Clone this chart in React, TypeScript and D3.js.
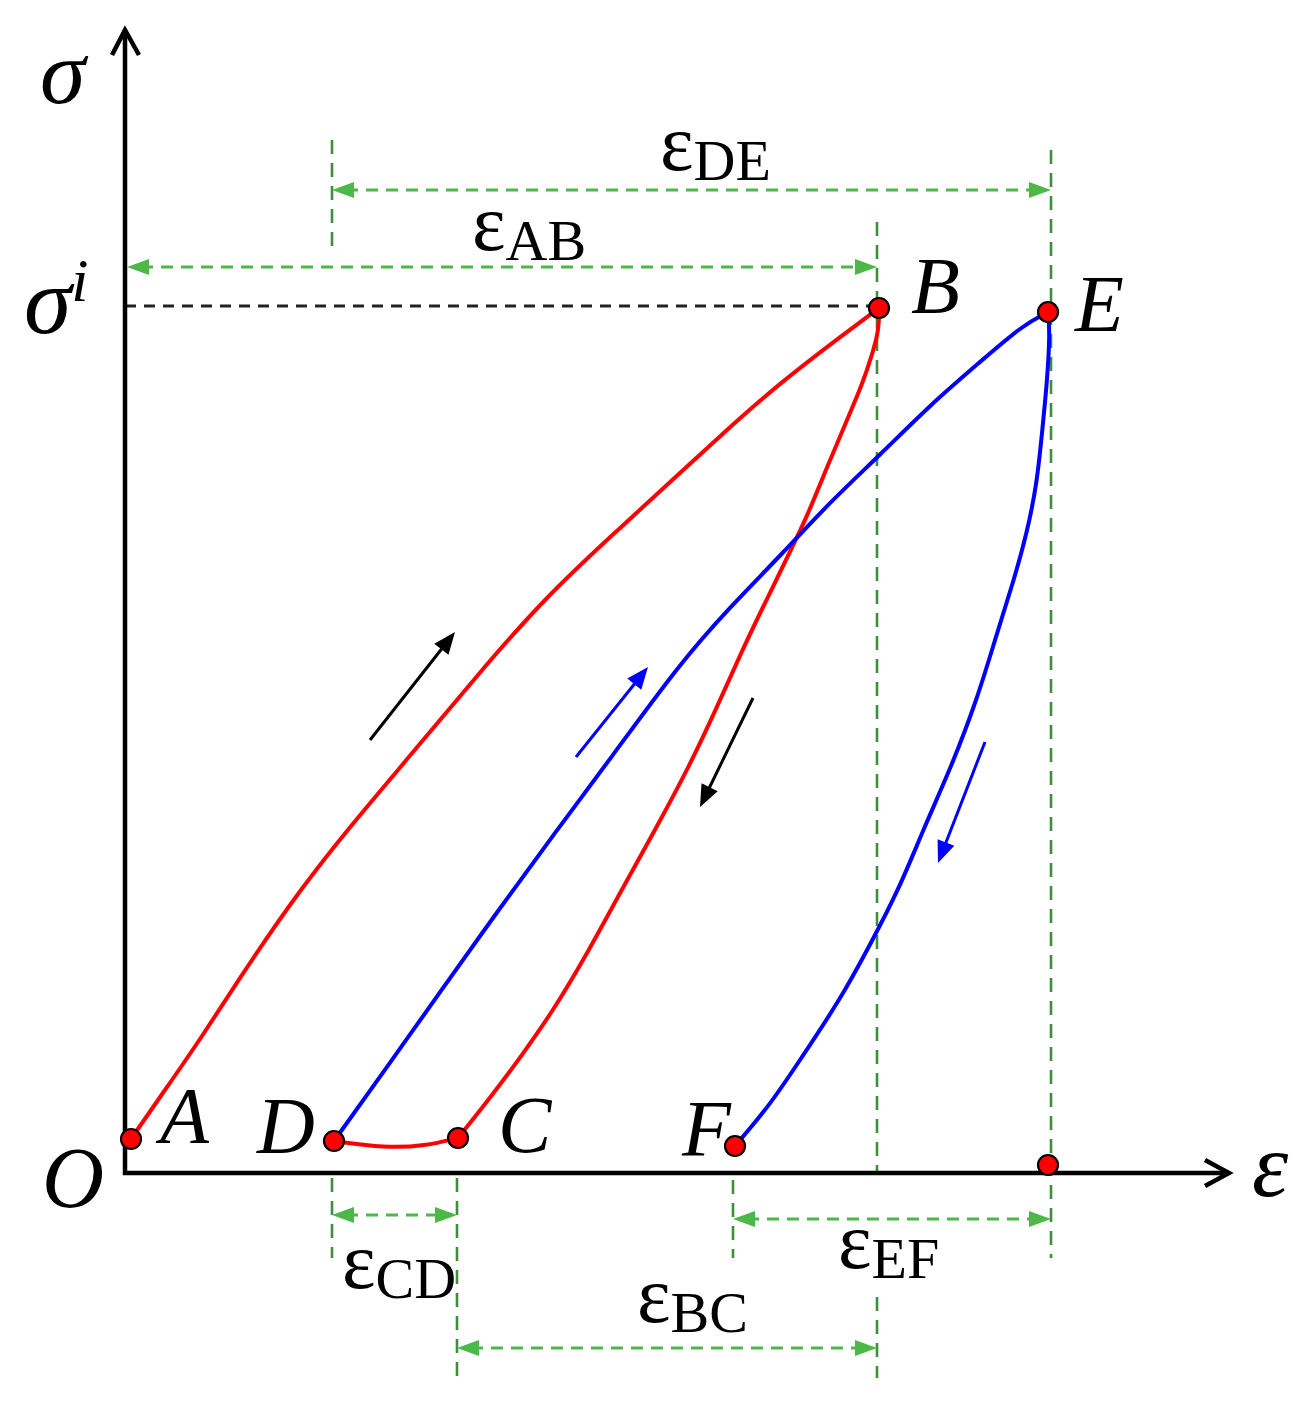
import React from "react";
import * as d3 from "d3";

// ---- data (strain units horizontally, stress units vertically) ----
type P = [number, number];

const curveAB: P[] = [
  [0.06, 0.34], [0.35, 0.76], [0.75, 1.33], [1.25, 2.11], [1.75, 2.83], [2.22, 3.43],
  [2.9, 4.23], [3.55, 5.01], [4.18, 5.73], [4.85, 6.36], [5.55, 7.0], [6.05, 7.46],
  [6.55, 7.9], [7.15, 8.36], [7.54, 8.65],
];
const curveBC: P[] = [
  [7.54, 8.65], [7.54, 8.43], [7.47, 8.18], [7.37, 7.88], [7.22, 7.53], [7.02, 7.06],
  [6.82, 6.56], [6.6, 6.11], [6.38, 5.66], [6.15, 5.18], [5.93, 4.68], [5.65, 4.08],
  [5.3, 3.43], [4.95, 2.8], [4.63, 2.21], [4.3, 1.65], [3.95, 1.15], [3.65, 0.75], [3.33, 0.35],
];
const curveDC: P[] = [[2.09, 0.32], [2.6, 0.25], [3.0, 0.27], [3.33, 0.35]];
const curveDE: P[] = [
  [2.09, 0.32], [2.65, 1.1], [3.15, 1.81], [3.75, 2.65], [4.32, 3.43], [4.83, 4.11],
  [5.55, 5.1], [6.05, 5.66], [6.58, 6.2], [7.05, 6.71], [7.55, 7.18], [8.05, 7.68],
  [8.55, 8.11], [8.98, 8.48], [9.23, 8.61],
];
const curveEF: P[] = [
  [9.23, 8.61], [9.25, 8.4], [9.22, 7.9], [9.17, 7.4], [9.12, 6.9], [9.02, 6.4],
  [8.88, 5.9], [8.72, 5.4], [8.52, 4.73], [8.25, 4.03], [7.98, 3.43], [7.75, 2.86],
  [7.45, 2.28], [7.15, 1.73], [6.75, 1.13], [6.45, 0.68], [6.1, 0.27],
];

const pointNames = ["A", "B", "C", "D", "E", "F", ""];
const pointValues: P[] = [
  [0.06, 0.34], [7.54, 8.65], [3.33, 0.35], [2.09, 0.32], [9.23, 8.61], [6.1, 0.27], [9.23, 0.08],
];
const labelAnchors: P[] = [
  [0.35, 0.3], [7.86, 8.6], [3.73, 0.21], [1.32, 0.2], [9.5, 8.42], [5.57, 0.17], [0, 0],
];

// dimension verticals: x, y1, y2
const vDims: [number, number, number][] = [
  [2.07, 10.33, 9.25],
  [2.07, -0.05, -0.85],
  [3.32, -0.05, -2.07],
  [7.52, 9.51, -0.02],
  [7.52, -1.24, -2.05],
  [9.26, 10.23, -0.85],
  [6.08, -0.07, -0.85],
];
// dimension arrows
const hDimNames = ["DE", "AB", "CD", "EF", "BC"];
const hDimY = [9.83, 9.06, -0.42, -0.46, -1.75];
const hDimX1 = [2.07, 0.02, 2.07, 6.08, 3.32];
const hDimX2 = [9.26, 7.52, 3.32, 9.26, 7.52];
const hDimLabel: P[] = [[5.35, 10.03], [3.47, 9.23], [2.17, -1.15], [7.13, -0.95], [5.12, -1.49]];

// direction arrows: tail, tip, color
const dirTail: P[] = [[2.45, 4.33], [4.51, 4.16], [6.28, 4.75], [8.6, 4.31]];
const dirTip: P[] = [[3.3, 5.41], [5.23, 5.06], [5.75, 3.66], [8.13, 3.1]];
const dirColor = ["#000", "#0000ff", "#000", "#0000ff"];

const sigmaI = 8.67;
const xMax = 11.04;
const yMax = 11.43;

const W = 1309;
const H = 1412;
const xS = d3.scaleLinear().domain([0, 11]).range([125, 1225]);
const yS = d3.scaleLinear().domain([0, 11]).range([1173, 73]);

const line = d3
  .line<P>()
  .x((d) => xS(d[0]))
  .y((d) => yS(d[1]))
  .curve(d3.curveBasis);

const FONT = '"Liberation Serif", "Times New Roman", serif';
const GREEN_V = "#3e8e3e";
const GREEN_H = "#4cb848";
const tStyle = { fontFamily: FONT };

function head(x1: number, y1: number, x2: number, y2: number, len: number, hw: number) {
  const a = Math.atan2(y2 - y1, x2 - x1);
  const bx = x2 - len * Math.cos(a);
  const by = y2 - len * Math.sin(a);
  const px = -Math.sin(a) * hw;
  const py = Math.cos(a) * hw;
  return `M${x2},${y2}L${bx + px},${by + py}L${bx - px},${by - py}Z`;
}

export default function App() {
  const x0 = xS(0);
  const y0 = yS(0);
  return (
    <svg width={W} height={H} style={{ position: "absolute", left: 0, top: 0, background: "#fff" }}>
      <rect width={W} height={H} fill="#fff" />
      {vDims.map(([x, a, b], i) => (
        <line
          key={"v" + i}
          x1={xS(x)}
          x2={xS(x)}
          y1={yS(a)}
          y2={yS(b)}
          stroke={GREEN_V}
          strokeWidth={2.6}
          strokeDasharray="14 9"
        />
      ))}
      {hDimNames.map((n, i) => {
        const y = yS(hDimY[i]);
        const xa = xS(hDimX1[i]);
        const xb = xS(hDimX2[i]);
        return (
          <g key={"h" + n}>
            <line x1={xa + 14} x2={xb - 14} y1={y} y2={y} stroke={GREEN_H} strokeWidth={3} strokeDasharray="12 8" />
            <path d={head(xb, y, xa, y, 22, 8)} fill={GREEN_H} />
            <path d={head(xa, y, xb, y, 22, 8)} fill={GREEN_H} />
            <text x={xS(hDimLabel[i][0])} y={yS(hDimLabel[i][1])} fontSize={80} fill="#000" style={tStyle}>
              ε<tspan fontSize={58} dy={10}>{n}</tspan>
            </text>
          </g>
        );
      })}
      <line
        x1={x0}
        x2={xS(pointValues[1][0])}
        y1={yS(sigmaI)}
        y2={yS(sigmaI)}
        stroke="#222"
        strokeWidth={3}
        strokeDasharray="11 8"
      />
      <path d={line(curveAB) || ""} fill="none" stroke="#ff0000" strokeWidth={4} />
      <path d={line(curveBC) || ""} fill="none" stroke="#ff0000" strokeWidth={4} />
      <path d={line(curveDC) || ""} fill="none" stroke="#ff0000" strokeWidth={4} />
      <path d={line(curveDE) || ""} fill="none" stroke="#0000ff" strokeWidth={4} />
      <path d={line(curveEF) || ""} fill="none" stroke="#0000ff" strokeWidth={4} />
      {dirTail.map((t, i) => {
        const tx = xS(t[0]);
        const ty = yS(t[1]);
        const hx = xS(dirTip[i][0]);
        const hy = yS(dirTip[i][1]);
        const a = Math.atan2(hy - ty, hx - tx);
        return (
          <g key={"d" + i}>
            <line x1={tx} y1={ty} x2={hx - 15 * Math.cos(a)} y2={hy - 15 * Math.sin(a)} stroke={dirColor[i]} strokeWidth={3} />
            <path d={head(tx, ty, hx, hy, 22, 9)} fill={dirColor[i]} />
          </g>
        );
      })}
      <path
        d={`M${x0},${yS(yMax)}L${x0},${y0}L${xS(xMax)},${y0}`}
        fill="none"
        stroke="#000"
        strokeWidth={4.5}
        strokeLinejoin="miter"
      />
      <path
        d={`M${x0 - 13},${yS(yMax) + 25}L${x0},${yS(yMax)}L${x0 + 14},${yS(yMax) + 25}`}
        fill="none"
        stroke="#000"
        strokeWidth={4.5}
      />
      <path
        d={`M${xS(xMax) - 24},${y0 - 13}L${xS(xMax)},${y0}L${xS(xMax) - 24},${y0 + 13}`}
        fill="none"
        stroke="#000"
        strokeWidth={4.5}
      />
      {pointValues.map((p, i) => (
        <circle key={"p" + i} cx={xS(p[0])} cy={yS(p[1])} r={10} fill="#ff0000" stroke="#000" strokeWidth={2.2} />
      ))}
      {pointNames.map((n, i) =>
        n ? (
          <text key={"l" + n} x={xS(labelAnchors[i][0])} y={yS(labelAnchors[i][1])} fontSize={80} fontStyle="italic" fill="#000" style={tStyle}>
            {n}
          </text>
        ) : null
      )}
      <text x={42} y={1207} fontSize={86} fontStyle="italic" fill="#000" style={tStyle}>O</text>
      <text x={40} y={103} fontSize={92} fontStyle="italic" fill="#000" style={tStyle}>σ</text>
      <text x={24} y={333} fontSize={96} fontStyle="italic" fill="#000" style={tStyle}>
        σ<tspan fontSize={62} dy={-32}>i</tspan>
      </text>
      <text x={1252} y={1196} fontSize={92} fontStyle="italic" fill="#000" style={tStyle}>ε</text>
    </svg>
  );
}
